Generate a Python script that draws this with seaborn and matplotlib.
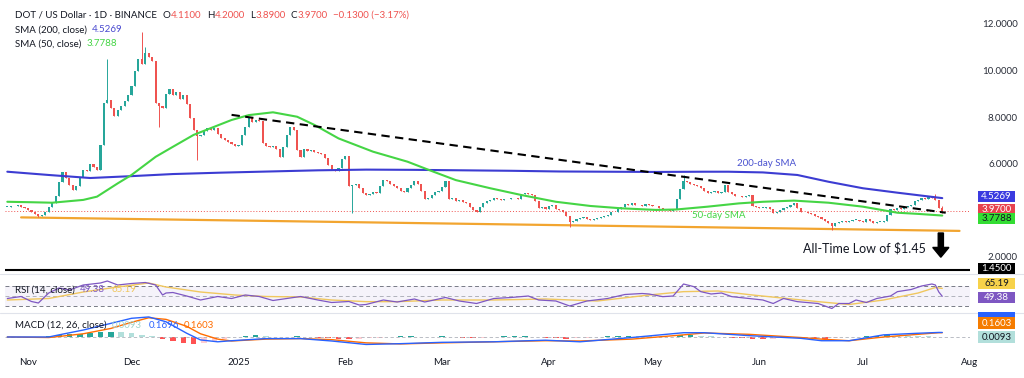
import numpy as np
import pandas as pd
import matplotlib
matplotlib.use("Agg")
import matplotlib.pyplot as plt
import matplotlib.dates as mdates
from matplotlib.lines import Line2D
from matplotlib.patches import Rectangle
import seaborn as sns

# =============================================
# DATA
# =============================================
first_day = "2024-10-26"
first_open = 4.15

# daily closes, DOT/USD
close_oct = [4.15, 4.18, 4.20, 4.22, 4.16, 4.10]
close_nov = [4.00, 3.92, 3.85, 3.78, 3.80, 3.92, 4.15, 4.30, 4.60, 5.20,
             5.65, 5.40, 5.10, 4.87, 5.05, 5.45, 5.75, 5.70, 6.00, 5.85,
             5.75, 6.80, 8.60, 8.75, 8.40, 8.05, 8.30, 8.50, 8.70, 8.95]
close_dec = [9.35, 10.00, 10.50, 10.30, 10.75, 10.60, 10.40, 8.60, 8.50, 8.40,
             9.00, 9.20, 8.95, 9.10, 8.80, 8.95, 8.55, 7.95, 7.45, 7.20,
             7.25, 7.40, 7.55, 7.45, 7.55, 7.30, 7.10, 7.00, 6.95, 6.85, 6.75]
close_jan = [6.80, 7.25, 7.60, 7.95, 7.80, 7.90, 7.85, 6.90, 6.75, 6.70,
             6.75, 6.65, 6.30, 6.70, 7.25, 7.60, 7.45, 6.60, 6.30, 6.65,
             6.55, 6.60, 6.50, 6.45, 6.40, 6.25, 5.95, 5.75, 5.70, 5.80, 6.20]
close_feb = [6.35, 5.05, 5.10, 5.15, 4.95, 4.75, 4.65, 4.70, 4.80, 4.75,
             5.05, 5.30, 5.25, 5.15, 5.05, 4.95, 4.85, 4.80, 4.95, 5.10,
             5.25, 5.15, 4.85, 4.50, 4.55, 4.65, 4.80, 4.85]
close_mar = [5.00, 5.25, 4.50, 4.55, 4.40, 4.45, 4.35, 4.30, 4.15, 4.00,
             3.95, 4.15, 4.30, 4.40, 4.45, 4.55, 4.50, 4.45, 4.50, 4.48,
             4.52, 4.55, 4.50, 4.70, 4.75, 4.72, 4.68, 4.40, 4.12, 4.15, 4.08]
close_apr = [4.18, 4.22, 4.05, 4.00, 3.92, 3.75, 3.50, 3.55, 3.62, 3.68,
             3.70, 3.65, 3.60, 3.65, 3.68, 3.72, 3.78, 3.80, 3.92, 3.95,
             4.05, 4.15, 4.28, 4.25, 4.30, 4.22, 4.25, 4.20, 4.28, 4.22]
close_may = [4.18, 4.20, 4.10, 4.05, 4.00, 3.98, 4.05, 4.50, 4.90, 5.25,
             5.20, 5.15, 5.10, 5.05, 4.95, 4.85, 4.75, 4.80, 4.85, 4.75,
             4.78, 5.10, 4.80, 4.70, 4.62, 4.60, 4.58, 4.62, 4.65, 4.18, 4.15]
close_jun = [4.10, 4.12, 4.15, 4.05, 3.90, 3.95, 4.00, 4.10, 4.15, 4.25,
             4.32, 4.10, 3.95, 3.92, 3.88, 3.85, 3.78, 3.70, 3.62, 3.55,
             3.48, 3.35, 3.45, 3.52, 3.55, 3.50, 3.56, 3.58, 3.60, 3.55]
close_jul = [3.52, 3.65, 3.55, 3.48, 3.50, 3.52, 3.55, 3.80, 4.05, 4.00,
             4.10, 4.05, 4.15, 4.18, 4.25, 4.40, 4.45, 4.55, 4.50, 4.58,
             4.55, 4.45, 4.10, 3.97]

# visible long wicks
wick_high = {"2024-11-24": 10.50, "2024-12-04": 11.67, "2024-12-05": 11.00,
             "2025-05-10": 5.50, "2025-07-22": 4.70, "2025-07-24": 4.20}
wick_low = {"2024-11-04": 3.72, "2024-12-09": 7.60, "2024-12-20": 6.16,
            "2025-02-03": 3.88, "2025-04-07": 3.30, "2025-06-22": 3.15,
            "2025-07-24": 3.89}

# moving averages (sampled along the drawn curves)
sma200_dates = ["2024-10-26", "2024-11-07", "2024-11-19", "2024-12-01", "2024-12-13",
                "2024-12-27", "2025-01-10", "2025-01-24", "2025-02-07", "2025-02-21",
                "2025-03-07", "2025-03-21", "2025-04-04", "2025-04-18", "2025-05-02",
                "2025-05-16", "2025-05-23", "2025-06-02", "2025-06-12", "2025-06-21",
                "2025-07-01", "2025-07-11", "2025-07-24"]
sma200_vals = [5.66, 5.52, 5.39, 5.47, 5.56, 5.62, 5.67, 5.72, 5.75, 5.74,
               5.72, 5.70, 5.67, 5.66, 5.65, 5.66, 5.66, 5.63, 5.52, 5.23,
               4.95, 4.76, 4.5269]

sma50_dates = ["2024-10-26", "2024-11-02", "2024-11-08", "2024-11-17", "2024-11-21",
               "2024-11-27", "2024-12-01", "2024-12-08", "2024-12-13", "2024-12-19",
               "2024-12-25", "2024-12-30", "2025-01-04", "2025-01-11", "2025-01-18",
               "2025-01-23", "2025-01-30", "2025-02-09", "2025-02-19", "2025-02-26",
               "2025-03-05", "2025-03-15", "2025-03-24", "2025-04-03", "2025-04-13",
               "2025-04-22", "2025-05-02", "2025-05-08", "2025-05-17", "2025-05-26",
               "2025-06-02", "2025-06-11", "2025-06-21", "2025-07-01", "2025-07-11",
               "2025-07-17", "2025-07-24"]
sma50_vals = [4.37, 4.35, 4.33, 4.45, 4.59, 5.16, 5.52, 6.30, 6.73, 7.24,
              7.59, 7.88, 8.09, 8.21, 8.02, 7.67, 7.09, 6.52, 6.09, 5.69,
              5.30, 4.95, 4.66, 4.37, 4.19, 4.09, 4.02, 4.04, 4.16, 4.30,
              4.37, 4.42, 4.33, 4.16, 3.90, 3.85, 3.7788]

# drawn lines
trend_dates = ["2024-12-30", "2025-07-25"]
trend_vals = [8.10, 3.90]
support_dates = ["2024-10-30", "2025-07-29"]
support_vals = [3.70, 3.12]
ath_low = 1.45

# RSI(14) and its moving average
rsi_dates = ["2024-10-26", "2024-10-30", "2024-11-02", "2024-11-04", "2024-11-07",
             "2024-11-10", "2024-11-13", "2024-11-17", "2024-11-22", "2024-11-24",
             "2024-11-27", "2024-12-01", "2024-12-05", "2024-12-08", "2024-12-10",
             "2024-12-11", "2024-12-13", "2024-12-17", "2024-12-21", "2024-12-26",
             "2024-12-30", "2025-01-03", "2025-01-07", "2025-01-11", "2025-01-15",
             "2025-01-19", "2025-01-24", "2025-01-28", "2025-02-02", "2025-02-05",
             "2025-02-07", "2025-02-12", "2025-02-16", "2025-02-21", "2025-02-24",
             "2025-03-02", "2025-03-06", "2025-03-11", "2025-03-16", "2025-03-21",
             "2025-03-26", "2025-03-29", "2025-04-03", "2025-04-07", "2025-04-12",
             "2025-04-18", "2025-04-23", "2025-04-28", "2025-04-30", "2025-05-04",
             "2025-05-07", "2025-05-10", "2025-05-13", "2025-05-15", "2025-05-18",
             "2025-05-21", "2025-05-24", "2025-05-29", "2025-06-02", "2025-06-05",
             "2025-06-08", "2025-06-12", "2025-06-18", "2025-06-22", "2025-06-24",
             "2025-06-27", "2025-06-29", "2025-07-02", "2025-07-05", "2025-07-09",
             "2025-07-11", "2025-07-15", "2025-07-18", "2025-07-21", "2025-07-22",
             "2025-07-23", "2025-07-24"]
rsi_vals = [45, 49, 39, 36, 56, 66, 62, 72, 76, 80,
            72, 75, 77, 72, 52, 56, 57, 50, 42, 49,
            45, 52, 49, 41, 45, 49, 42, 37, 39, 32,
            33, 42, 38, 44, 38, 47, 40, 35, 45, 47,
            50, 42, 40, 30, 40, 45, 53, 55, 54, 48.7,
            50, 74, 68.7, 58.7, 54, 56, 48.7, 45, 42, 35,
            45, 38.7, 35, 25, 35, 35, 42, 37, 45, 50,
            58.7, 63, 70, 74, 72, 58, 49.38]
rsi_ma_dates = ["2024-10-26", "2024-11-07", "2024-11-17", "2024-11-27", "2024-12-06",
                "2024-12-11", "2024-12-21", "2024-12-31", "2025-01-09", "2025-01-19",
                "2025-01-28", "2025-02-07", "2025-02-16", "2025-03-01", "2025-03-16",
                "2025-03-31", "2025-04-15", "2025-04-30", "2025-05-10", "2025-05-20",
                "2025-05-30", "2025-06-09", "2025-06-18", "2025-06-27", "2025-07-07",
                "2025-07-17", "2025-07-22", "2025-07-24"]
rsi_ma_vals = [42, 45, 58, 68, 76, 68, 58, 52, 49, 48,
               42, 38.7, 38.7, 42, 42, 44, 40, 52, 58.7, 60,
               52, 45, 38.7, 33, 42, 56, 67, 65.19]

# MACD(12, 26) line, signal line, histogram (every third day)
macd_dates = ["2024-10-26", "2024-11-07", "2024-11-10", "2024-11-17", "2024-11-25",
              "2024-12-01", "2024-12-06", "2024-12-11", "2024-12-17", "2024-12-21",
              "2024-12-26", "2024-12-30", "2025-01-09", "2025-01-19", "2025-01-28",
              "2025-02-07", "2025-02-17", "2025-03-01", "2025-03-16", "2025-03-31",
              "2025-04-10", "2025-04-25", "2025-05-10", "2025-05-16", "2025-05-29",
              "2025-06-13", "2025-06-19", "2025-06-27", "2025-07-07", "2025-07-17",
              "2025-07-23", "2025-07-24"]
macd_vals = [0.00, 0.00, 0.08, 0.26, 0.51, 0.70, 0.75, 0.57, 0.14, -0.11,
             -0.18, -0.14, -0.06, -0.06, -0.15, -0.28, -0.25, -0.20, -0.18, -0.12,
             -0.18, -0.02, 0.16, 0.16, 0.05, -0.05, -0.14, -0.14, 0.08, 0.14,
             0.17, 0.1696]
signal_vals = [0.00, -0.02, 0.02, 0.12, 0.32, 0.55, 0.72, 0.66, 0.40, 0.12,
               -0.08, -0.15, -0.08, -0.06, -0.10, -0.22, -0.26, -0.22, -0.18, -0.14,
               -0.15, -0.08, 0.08, 0.15, 0.10, -0.02, -0.08, -0.14, 0.00, 0.10,
               0.16, 0.1603]
hist_vals = [0.00, -0.01, -0.02, -0.03, 0.02, 0.06, 0.10, 0.13, 0.15, 0.17,
             0.19, 0.17, 0.15, 0.09, 0.03, -0.06, -0.14, -0.22, -0.27, -0.24,
             -0.16, -0.06, 0.01, 0.04, 0.06, 0.03, -0.01, 0.01, 0.02, -0.01,
             -0.03, -0.05, -0.06, -0.09, -0.07, -0.05, -0.02, 0.01, 0.02, 0.03,
             0.01, -0.01, 0.02, 0.00, -0.02, -0.04, -0.02, 0.01, 0.02, 0.03,
             0.04, 0.01, -0.03, -0.04, -0.06, -0.05, -0.02, 0.00, 0.02, 0.04,
             0.05, 0.04, 0.02, 0.00, -0.01, 0.06, 0.09, 0.05, 0.02, -0.01,
             -0.02, -0.04, -0.06, -0.07, -0.06, -0.03, -0.01, -0.03, -0.05, -0.06,
             -0.04, -0.01, 0.01, 0.02, 0.03, 0.06, 0.05, 0.04, 0.03, 0.02, 0.0093]

price_ticks = [2, 6, 8, 10, 12]
month_labels = ["Nov", "Dec", "2025", "Feb", "Mar", "Apr", "May", "Jun", "Jul", "Aug"]

# =============================================
# STYLE
# =============================================
sns.set_theme(style="white")
plt.rcParams["font.family"] = ["Lato", "DejaVu Sans"]

UP, DOWN = "#26a69a", "#ef5350"
TXT = "#131722"
C200, C50 = "#3c3cd2", "#45d545"

W, H = 1024, 378
fig = plt.figure(figsize=(W / 100, H / 100), dpi=100)


def fx(px):
    return px / W


def fy(py):
    return 1 - py / H


# x range: one day is ~3.45 px, 1 Nov sits at x=28
x0 = pd.Timestamp("2024-11-01") - pd.Timedelta(days=6.67)
x1 = pd.Timestamp("2024-11-01") + pd.Timedelta(days=273.04)

ax = fig.add_axes([fx(5), fy(272), fx(965), 268 / H])
ax_rsi = fig.add_axes([fx(5), fy(312), fx(965), 38 / H], sharex=ax)
ax_macd = fig.add_axes([fx(5), fy(347), fx(965), 33 / H], sharex=ax)

for a in (ax, ax_rsi, ax_macd):
    for s in a.spines.values():
        s.set_visible(False)
    a.set_facecolor("none")
    a.grid(False)

# =============================================
# MAIN PANEL: candles, SMAs, lines
# =============================================
closes = (close_oct + close_nov + close_dec + close_jan + close_feb + close_mar
          + close_apr + close_may + close_jun + close_jul)
df = pd.DataFrame({"date": pd.date_range(first_day, periods=len(closes), freq="D"),
                   "close": closes})
df["open"] = df["close"].shift(1).fillna(first_open)
df["high"] = df[["open", "close"]].max(axis=1)
df["low"] = df[["open", "close"]].min(axis=1)
for d, v in wick_high.items():
    df.loc[df["date"] == pd.Timestamp(d), "high"] = v
for d, v in wick_low.items():
    df.loc[df["date"] == pd.Timestamp(d), "low"] = v
df["col"] = np.where(df["close"] >= df["open"], UP, DOWN)

ax.vlines(df["date"], df["low"], df["high"], colors=df["col"], linewidth=0.7, zorder=3)
body = (df["close"] - df["open"]).abs().clip(lower=0.03)
ax.bar(df["date"], body, bottom=df[["open", "close"]].min(axis=1), width=0.62,
       color=df["col"], linewidth=0, zorder=3)

sma200 = pd.DataFrame({"date": pd.to_datetime(sma200_dates), "v": sma200_vals})
sma50 = pd.DataFrame({"date": pd.to_datetime(sma50_dates), "v": sma50_vals})
sns.lineplot(data=sma200, x="date", y="v", ax=ax, color=C200, linewidth=1.5, zorder=4)
sns.lineplot(data=sma50, x="date", y="v", ax=ax, color=C50, linewidth=1.5, zorder=4)

ax.plot(pd.to_datetime(trend_dates), trend_vals, color="black", linewidth=1.5,
        dashes=(4, 2.6), zorder=5)
sns.lineplot(x=pd.to_datetime(support_dates), y=support_vals, ax=ax, color="#f2a530",
             linewidth=1.6, zorder=2)
ax.axhline(ath_low, color="black", linewidth=1.5, zorder=5)
ax.axhline(closes[-1], color=DOWN, linewidth=0.7, linestyle=(0, (1, 2)), zorder=1)

ax.text(pd.Timestamp("2025-05-25 12:00"), 6.03, "200-day SMA", color="#4a52d0",
        fontsize=7, va="center", ha="left")
ax.text(pd.Timestamp("2025-05-12 12:00"), 3.80, "50-day SMA", color=C50,
        fontsize=7, va="center", ha="left")
ax.text(pd.Timestamp("2025-06-13 12:00"), 2.39, r"All-Time Low of \$1.45", color=TXT,
        fontsize=9, va="center", ha="left")
ax.arrow(mdates.date2num(pd.Timestamp("2025-07-23 14:00")), 3.03, 0, -0.62,
         width=1.5, head_width=4.7, head_length=0.42, length_includes_head=False,
         color="black", zorder=6)

ax.set_xlim(x0, x1)
ax.set_ylim(1.356, 12.858)
ax.yaxis.tick_right()
ax.set_yticks(price_ticks)
ax.set_yticklabels([f"{t:.4f}" for t in price_ticks])
ax.tick_params(axis="y", length=0, pad=34.5, labelsize=7, labelcolor="#2a2e39")
for lab in ax.get_yticklabels():
    lab.set_horizontalalignment("right")
ax.tick_params(axis="x", bottom=False, labelbottom=False)

# =============================================
# RSI PANEL
# =============================================
ax_rsi.axhspan(30, 70, color="#7e57c2", alpha=0.07, linewidth=0)
for lvl, c in ((70, "#787b86"), (50, "#b0b3bc"), (30, "#787b86")):
    ax_rsi.axhline(lvl, color=c, linewidth=0.7, dashes=(4, 3))
sns.lineplot(x=pd.to_datetime(rsi_ma_dates), y=rsi_ma_vals, ax=ax_rsi, color="#f0c75e",
             linewidth=1.0)
sns.lineplot(x=pd.to_datetime(rsi_dates), y=rsi_vals, ax=ax_rsi, color="#7e57c2",
             linewidth=0.9)
ax_rsi.set_ylim(18, 94)
ax_rsi.set_yticks([])
ax_rsi.tick_params(axis="x", bottom=False, labelbottom=False)

# =============================================
# MACD PANEL
# =============================================
hist_dates = pd.date_range(first_day, periods=len(hist_vals), freq="3D")
hist = pd.Series(hist_vals)
prev = hist.shift(1).fillna(0)
hcol = np.where(hist >= 0, np.where(hist >= prev, "#26a69a", "#b2dfdb"),
                np.where(hist < prev, "#ff5252", "#ffcdd2"))
ax_macd.bar(hist_dates, hist_vals, width=1.6, color=hcol, linewidth=0)
ax_macd.axhline(0, color="#b0b3bc", linewidth=0.6, dashes=(4, 3))
sns.lineplot(x=pd.to_datetime(macd_dates), y=signal_vals, ax=ax_macd, color="#ff6d00",
             linewidth=1.0)
sns.lineplot(x=pd.to_datetime(macd_dates), y=macd_vals, ax=ax_macd, color="#2962ff",
             linewidth=1.0)
ax_macd.set_ylim(-0.375, 0.861)
ax_macd.set_yticks([])

ticks = pd.date_range("2024-11-01", "2025-08-01", freq="MS")
ax_macd.set_xticks(ticks)
ax_macd.set_xticklabels(month_labels)
ax_macd.tick_params(axis="x", length=0, pad=8, labelsize=7, labelcolor=TXT)
ax_macd.set_xlim(x0, x1)

# seaborn puts column names on the axes; the reference has none
for a in (ax, ax_rsi, ax_macd):
    a.set_xlabel("")
    a.set_ylabel("")

# =============================================
# PRICE TAGS ON THE RIGHT SCALE
# =============================================


def tag(a, val, text, bg, fg, shift_px=0.0, z=10):
    """Fixed-width label box in the scale column; shift_px moves it down."""
    yc = a.transData.transform((0, val))[1] - shift_px
    fig.add_artist(Rectangle((fx(978), (yc - 5.8) / H), fx(37), 11.6 / H,
                             transform=fig.transFigure, fc=bg, ec="none", zorder=z))
    if text:
        fig.text(fx(996.5), yc / H, text, ha="center", va="center", fontsize=7,
                 color=fg, zorder=z + 0.5)


tag(ax, sma200_vals[-1], f"{sma200_vals[-1]:.4f}", "#3b3be0", "white", -1.5)
tag(ax, closes[-1], f"{closes[-1]:.4f}", "#e8424f", "white", -1.6, z=10)
tag(ax, sma50_vals[-1], f"{sma50_vals[-1]:.4f}", "#33dd33", TXT, 3.0, z=11)
tag(ax, ath_low, f"{ath_low:.4f}", "black", "white", -1.5)
tag(ax_rsi, rsi_ma_vals[-1], f"{rsi_ma_vals[-1]:.2f}", "#f7d24a", TXT, -4.9)
tag(ax_rsi, rsi_vals[-1], f"{rsi_vals[-1]:.2f}", "#7e57c2", "white", 1.2)
# the MACD-line tag sits almost fully behind the signal tag: only its edge shows
tag(ax_macd, macd_vals[-1], "", "#2962ff", "white", -14.5, z=10)
tag(ax_macd, signal_vals[-1], f"{signal_vals[-1]:.4f}", "#f57c00", "white", -9.7, z=11)
tag(ax_macd, hist_vals[-1], f"{hist_vals[-1]:.4f}", "#b2dfdb", TXT, 0.3)

# =============================================
# HEADERS, SEPARATORS
# =============================================
renderer = fig.canvas.get_renderer()


def text_row(py, parts, start=15, fs=7):
    """Write coloured pieces one after another, like the TradingView legend."""
    x = start
    for txt, color, gap in parts:
        t = fig.text(fx(x), fy(py), txt, fontsize=fs, color=color, va="center")
        x = t.get_window_extent(renderer=renderer).x1 + gap


text_row(15, [("DOT / US Dollar · 1D · BINANCE", TXT, 6),
              ("O", TXT, 0.5), ("4.1100", DOWN, 5),
              ("H", TXT, 0.5), ("4.2000", DOWN, 5),
              ("L", TXT, 0.5), ("3.8900", DOWN, 5),
              ("C", TXT, 0.5), ("3.9700", DOWN, 5),
              ("−0.1300 (−3.17%)", DOWN, 0)])
text_row(30, [("SMA (200, close)", TXT, 5), ("4.5269", "#4a4ad0", 0)])
text_row(44, [("SMA (50, close)", TXT, 5), ("3.7788", C50, 0)])
text_row(290, [("RSI (14, close)", TXT, 5), ("49.38", "#7e57c2", 7),
               ("65.19", "#f0c75e", 0)])
text_row(325, [("MACD (12, 26, close)", TXT, 5), ("0.0093", "#9fd3cc", 7),
               ("0.1696", "#2962ff", 5), ("0.1603", "#ff6d00", 0)])

for py in (273.5, 313):
    fig.add_artist(Line2D([0, 1], [fy(py), fy(py)], color="#e0e3eb", linewidth=0.8))

fig.savefig("out.png", dpi=100, facecolor="white")
